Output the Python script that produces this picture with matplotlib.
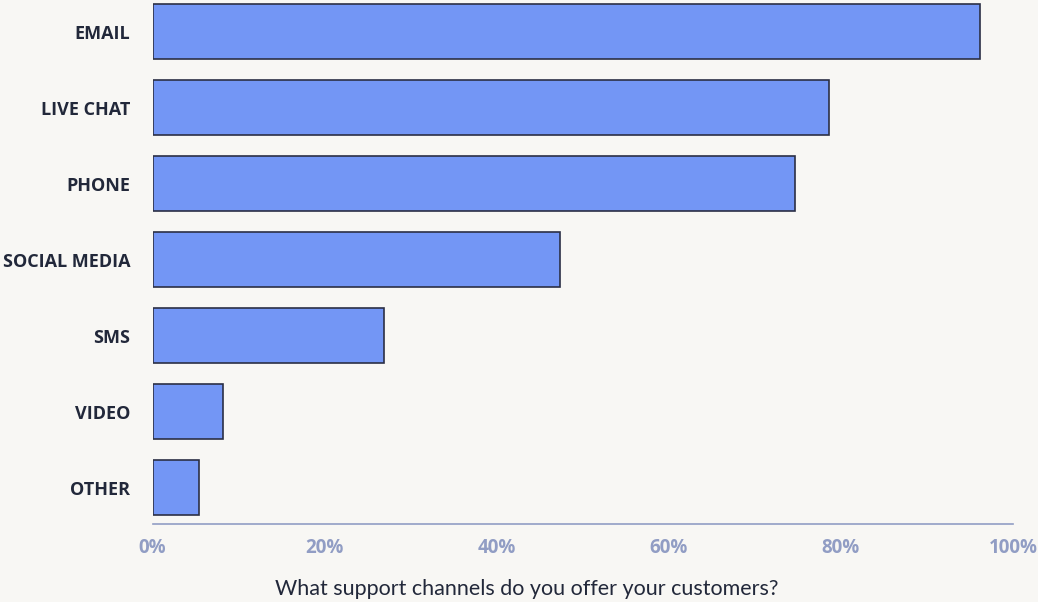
import matplotlib.pyplot as plt
from matplotlib.ticker import FuncFormatter

# Share of respondents offering each support channel (%)
CHANNELS = ['EMAIL', 'LIVE CHAT', 'PHONE', 'SOCIAL MEDIA', 'SMS', 'VIDEO', 'OTHER']
SHARE = [96.2, 78.6, 74.7, 47.3, 26.9, 8.2, 5.4]
XTICKS = [0, 20, 40, 60, 80, 100]
QUESTION = 'What support channels do you offer your customers?'

BG = '#f8f7f4'
BAR = '#7396f5'
EDGE = '#2b2f45'
AXIS = '#919dc4'
TEXT = '#22283a'

W, H = 1038, 602
fig = plt.figure(figsize=(W / 100, H / 100), dpi=100)
fig.patch.set_facecolor(BG)

# axes box in pixel coordinates: x 152..1013, y 0..524 from top
left, right, top, bottom = 152.5, 1013, 0, 524
ax = fig.add_axes([left / W, 1 - bottom / H, (right - left) / W, (bottom - top) / H])
ax.set_facecolor(BG)

pos = list(range(len(CHANNELS)))
ax.barh(pos, SHARE, height=0.72, color=BAR, edgecolor=EDGE, linewidth=1.2)

ax.set_xlim(0, 100)
ax.set_ylim(6 + 36.5 / 76, -31.5 / 76)

ax.set_yticks(pos)
ax.set_yticklabels(CHANNELS, fontsize=13, fontweight='bold', color=TEXT,
                   family='Open Sans')
ax.set_xticks(XTICKS)
ax.xaxis.set_major_formatter(FuncFormatter(lambda v, _: f'{v:.0f}%'))
for lab in ax.get_xticklabels():
    lab.set_fontsize(13.5)
    lab.set_fontweight('bold')
    lab.set_color(AXIS)
    lab.set_family('Open Sans')
ax.tick_params(axis='both', length=0)
ax.tick_params(axis='y', pad=16)
ax.tick_params(axis='x', pad=10)

for side in ('top', 'right', 'left'):
    ax.spines[side].set_visible(False)
ax.spines['bottom'].set_color(AXIS)
ax.spines['bottom'].set_linewidth(1.2)

# question caption under the chart
fig.text(527 / W, 1 - 589 / H, QUESTION, fontsize=15.5, color=TEXT,
         family='Lato', ha='center', va='center')

plt.savefig('out.png', dpi=100, facecolor=BG)
